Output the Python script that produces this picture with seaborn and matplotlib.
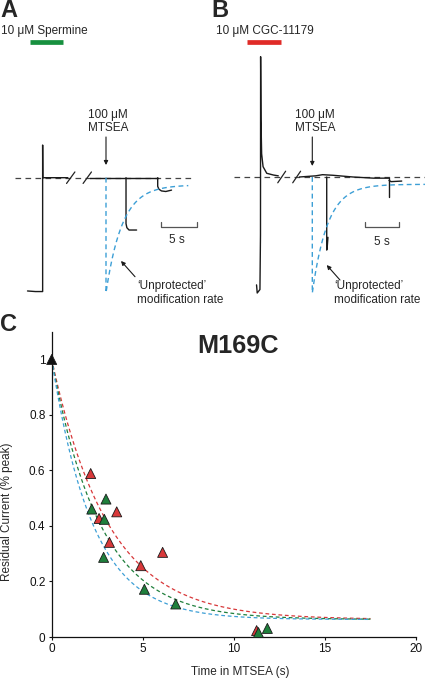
import numpy as np
import pandas as pd
import matplotlib
matplotlib.use('Agg')
import matplotlib.pyplot as plt
from matplotlib.lines import Line2D
import seaborn as sns

# ---- panel C: residual current after MTSEA exposure ----
red_t = [2.14, 2.60, 3.57, 3.17, 4.89, 6.09, 11.25]
red_i = [0.589, 0.427, 0.451, 0.341, 0.257, 0.305, 0.023]
green_t = [2.20, 2.98, 2.89, 2.85, 5.09, 6.81, 11.35, 11.84]
green_i = [0.461, 0.497, 0.424, 0.287, 0.172, 0.119, 0.016, 0.031]
ctrl_t = [0.0]
ctrl_i = [1.0]

# single exponential fits (time constant in s, plateau)
fit_tau = {'CGC-11179': 3.1, 'Spermine': 2.65, 'Unprotected': 2.25}
fit_plateau = 0.063
fit_end = 17.5

# ---- panel A trace (time s, current normalised to peak) ----
a_seg1_t = [-10.9, -9.8, -8.8, -8.8, -8.78, -5.3]
a_seg1_i = [-0.985, -0.99, -0.99, 0.284, 0.0, 0.0]
a_seg2_t = [-2.2, 7.18]
a_seg2_i = [0.0, 0.0]
a_pulse2_t = [2.78, 2.78, 2.9, 3.2, 4.25]
a_pulse2_i = [0.0, -0.40, -0.435, -0.455, -0.455]
a_pulse3_t = [7.18, 7.18, 7.35, 7.7, 8.3, 9.1]
a_pulse3_i = [0.0, -0.075, -0.10, -0.115, -0.12, -0.108]
a_breaks = [-4.9, -2.6]
a_trace_end = 11.43

# ---- panel B trace ----
b_seg1_t = [-8.2, -8.1, -7.7, -7.62, -7.6, -7.55, -7.45, -7.24, -6.7, -5.72, -5.0]
b_seg1_i = [-0.93, -1.0, -0.97, -0.5, 1.037, 0.5, 0.2, 0.089, 0.032, 0.017, 0.01]
b_seg2_t = [-1.9, 0.5, 1.5, 3.0, 6.0, 9.0, 11.28]
b_seg2_i = [0.0, 0.01, 0.02, 0.015, 0.0, -0.01, -0.01]
b_pulse2_t = [2.12, 2.12, 2.2, 2.3]
b_pulse2_i = [0.0, -0.63, -0.6, -0.52]
b_pulse3_t = [11.28, 11.28]
b_pulse3_i = [-0.01, -0.17]
b_tail_t = [11.28, 11.6, 13.15]
b_tail_i = [-0.03, -0.04, -0.035]
b_breaks = [-4.5, -2.3]
b_trace_end = 16.57

RED = '#d8383a'
GREEN = '#1f7f3c'
BLUE = '#3d9fd6'
BAR_RED = '#e02b27'
BAR_GREEN = '#17903f'

sns.set_style('white')
plt.rcParams['font.family'] = ['Liberation Sans', 'DejaVu Sans']

W, H = 425, 679
fig = plt.figure(figsize=(W / 100, H / 100), dpi=100)


def px_axes(x0, y0, x1, y1):
    return fig.add_axes([x0 / W, 1 - y1 / H, (x1 - x0) / W, (y1 - y0) / H])


def ftext(x, y, s, **kw):
    fig.text(x / W, 1 - y / H, s, **kw)


def fit_curve(tau, t_end):
    t = np.linspace(0, t_end, 200)
    return t, fit_plateau + (1 - fit_plateau) * np.exp(-t / tau)


def trace_panel(ax, origin_px, base_py, px_s, px_i, x0, x1, y0=35, y1=305):
    ax.set_xlim((x0 - origin_px) / px_s, (x1 - origin_px) / px_s)
    ax.set_ylim((base_py - y1) / px_i, (base_py - y0) / px_i)
    ax.axis('off')


def draw_breaks(ax, centres):
    for c in centres:
        ax.plot([c - 0.58, c + 0.58], [-0.05, 0.05], color='#222222', lw=0.9)


def unprotected(ax, t_end):
    t, y = fit_curve(fit_tau['Unprotected'], t_end)
    ax.plot(np.r_[0, t], np.r_[0, -y], color=BLUE, lw=1.0, dashes=(3.5, 2.5))


def arrow(ax, tip, tail):
    ax.annotate('', xy=tip, xytext=tail,
                arrowprops=dict(arrowstyle='-|>', color='#1a1a1a', lw=0.8,
                                mutation_scale=6, shrinkA=0, shrinkB=0))


# ---------------- panel A ----------------
axa = px_axes(0, 35, 212, 305)
trace_panel(axa, 106, 177.7, 7.2, 115, 0, 212)
axa.plot([-12.64, 12.36], [0, 0], color='#444444', lw=0.9, dashes=(4.5, 3.5))
for t, i in [(a_seg1_t, a_seg1_i), (a_seg2_t, a_seg2_i),
             (a_pulse2_t, a_pulse2_i), (a_pulse3_t, a_pulse3_i)]:
    axa.plot(t, i, color='#1a1a1a', lw=1.0)
draw_breaks(axa, a_breaks)
unprotected(axa, a_trace_end)
arrow(axa, (0, 0.11), (0, 0.354))
arrow(axa, (2.08, -0.724), (4.03, -0.861))
axa.plot([7.58, 7.58, 12.58, 12.58], [-0.383, -0.426, -0.426, -0.383],
         color='#555555', lw=0.9)

# ---------------- panel B ----------------
axb = px_axes(212, 35, 425, 305)
trace_panel(axb, 312.3, 177.0, 6.8, 116, 212, 425)
axb.plot([-11.51, 16.57], [0, 0], color='#444444', lw=0.9, dashes=(4.5, 3.5))
for t, i in [(b_seg1_t, b_seg1_i), (b_seg2_t, b_seg2_i), (b_pulse2_t, b_pulse2_i),
             (b_pulse3_t, b_pulse3_i), (b_tail_t, b_tail_i)]:
    axb.plot(t, i, color='#1a1a1a', lw=1.0)
draw_breaks(axb, b_breaks)
unprotected(axb, b_trace_end)
arrow(axb, (0, 0.095), (0, 0.345))
arrow(axb, (2.12, -0.759), (4.07, -0.888))
axb.plot([7.75, 7.75, 12.75, 12.75], [-0.388, -0.428, -0.428, -0.388],
         color='#555555', lw=0.9)

# labels / application bars for A and B
fs = 8.5
ftext(0, -1, 'A', fontsize=17, fontweight='bold', va='top', ha='left')
ftext(211, -1, 'B', fontsize=17, fontweight='bold', va='top', ha='left')
ftext(1, 31, '10 \u03bcM Spermine', fontsize=fs, va='center', ha='left')
ftext(216, 31, '10 \u03bcM CGC-11179', fontsize=fs, va='center', ha='left')
fig.add_artist(Line2D([30 / W, 63 / W], [1 - 42 / H] * 2, color=BAR_GREEN, lw=3.4,
                      solid_capstyle='butt'))
fig.add_artist(Line2D([247 / W, 281 / W], [1 - 42 / H] * 2, color=BAR_RED, lw=3.4,
                      solid_capstyle='butt'))
for cx in (108, 315):
    ftext(cx, 115, '100 \u03bcM', fontsize=fs, va='center', ha='center')
    ftext(cx, 128, 'MTSEA', fontsize=fs, va='center', ha='center')
for lx in (137, 334):
    ftext(lx, 286, '\u2018Unprotected\u2019', fontsize=fs, va='center', ha='left')
    ftext(lx, 300, 'modification rate', fontsize=fs, va='center', ha='left')
ftext(176.7, 240, '5 s', fontsize=fs, va='center', ha='center')
ftext(382.3, 241.7, '5 s', fontsize=fs, va='center', ha='center')

# ---------------- panel C ----------------
axc = px_axes(51.7, 331.7, 416, 637)
for cond, col in [('CGC-11179', RED), ('Spermine', GREEN), ('Unprotected', BLUE)]:
    t, y = fit_curve(fit_tau[cond], fit_end)
    axc.plot(t, y, color=col, lw=0.9, dashes=(3, 2.2), zorder=2)

df = pd.DataFrame({
    't': ctrl_t + red_t + green_t,
    'resid': ctrl_i + red_i + green_i,
    'cond': ['Control'] * len(ctrl_t) + ['CGC-11179'] * len(red_t) + ['Spermine'] * len(green_t),
})
sns.scatterplot(data=df, x='t', y='resid', hue='cond',
                palette={'Control': '#111111', 'CGC-11179': RED, 'Spermine': GREEN},
                marker='^', s=52, edgecolor='#1a1a1a', linewidth=0.6,
                legend=False, ax=axc, zorder=3, clip_on=False)

axc.set_xlim(0, 20)
axc.set_ylim(0, 1.1)
axc.set_xticks([0, 5, 10, 15, 20])
axc.set_yticks([0, 0.2, 0.4, 0.6, 0.8, 1.0])
axc.set_yticklabels(['0', '0.2', '0.4', '0.6', '0.8', '1'])
axc.set_xlabel('')
axc.set_ylabel('')
sns.despine(ax=axc)
for sp in ('left', 'bottom'):
    axc.spines[sp].set_color('#111111')
    axc.spines[sp].set_linewidth(0.9)
axc.tick_params(direction='out', length=2.5, width=0.8, labelsize=fs, pad=2,
                colors='#111111', left=True, bottom=True)
ftext(0, 313, 'C', fontsize=17, fontweight='bold', va='top', ha='left')
ftext(238, 346, 'M169C', fontsize=18.2, fontweight='bold', va='center', ha='center')
ftext(240, 671.5, 'Time in MTSEA (s)', fontsize=fs, va='center', ha='center')
ftext(7, 511.7, 'Residual Current (% peak)', fontsize=fs, va='center', ha='center',
      rotation=90)

fig.savefig('out.png', dpi=100)
plt.close(fig)
